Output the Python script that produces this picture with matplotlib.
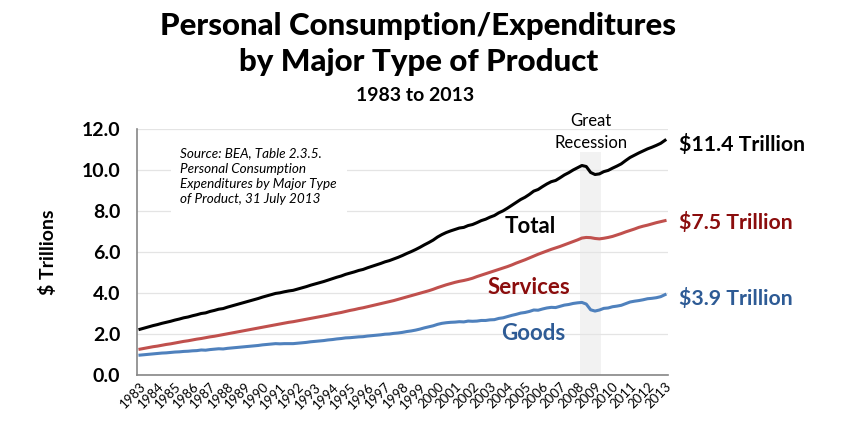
import numpy as np
import matplotlib
matplotlib.use("Agg")
import matplotlib.pyplot as plt

# quarterly values, $ trillions, 1983Q1 .. 2013Q1
years = np.arange(1983, 2013.01, 0.25)

goods = [
    0.97, 0.99, 1.01, 1.03,
    1.05, 1.07, 1.08, 1.10,
    1.12, 1.13, 1.15, 1.16,
    1.18, 1.19, 1.22, 1.21,
    1.24, 1.26, 1.28, 1.27,
    1.30, 1.32, 1.34, 1.36,
    1.38, 1.40, 1.42, 1.44,
    1.47, 1.49, 1.51, 1.53,
    1.52, 1.53, 1.53, 1.53,
    1.55, 1.57, 1.59, 1.62,
    1.64, 1.66, 1.68, 1.71,
    1.73, 1.76, 1.78, 1.81,
    1.82, 1.84, 1.86, 1.87,
    1.90, 1.92, 1.94, 1.96,
    1.99, 2.00, 2.03, 2.05,
    2.08, 2.12, 2.15, 2.19,
    2.24, 2.30, 2.35, 2.40,
    2.47, 2.52, 2.55, 2.57,
    2.58, 2.60, 2.59, 2.63,
    2.62, 2.63, 2.66, 2.66,
    2.69, 2.70, 2.76, 2.79,
    2.85, 2.91, 2.96, 3.02,
    3.05, 3.10, 3.17, 3.16,
    3.22, 3.27, 3.30, 3.29,
    3.35, 3.41, 3.44, 3.49,
    3.52, 3.54, 3.46, 3.18,
    3.12, 3.17, 3.25, 3.27,
    3.33, 3.36, 3.40, 3.48,
    3.56, 3.60, 3.63, 3.67,
    3.72, 3.74, 3.77, 3.82,
    3.92,
]

services = [
    1.26, 1.30, 1.34, 1.38,
    1.41, 1.45, 1.49, 1.52,
    1.56, 1.60, 1.64, 1.67,
    1.71, 1.75, 1.78, 1.82,
    1.86, 1.89, 1.93, 1.97,
    2.01, 2.05, 2.09, 2.13,
    2.17, 2.21, 2.25, 2.29,
    2.33, 2.37, 2.41, 2.45,
    2.49, 2.53, 2.57, 2.60,
    2.64, 2.68, 2.72, 2.76,
    2.80, 2.84, 2.88, 2.92,
    2.97, 3.01, 3.05, 3.10,
    3.15, 3.19, 3.24, 3.28,
    3.33, 3.38, 3.43, 3.48,
    3.53, 3.58, 3.63, 3.69,
    3.75, 3.81, 3.87, 3.93,
    3.99, 4.05, 4.11, 4.18,
    4.26, 4.33, 4.40, 4.46,
    4.52, 4.57, 4.61, 4.66,
    4.72, 4.80, 4.87, 4.94,
    5.01, 5.08, 5.15, 5.22,
    5.29, 5.37, 5.46, 5.54,
    5.62, 5.71, 5.80, 5.89,
    5.97, 6.05, 6.13, 6.20,
    6.27, 6.35, 6.43, 6.51,
    6.59, 6.68, 6.71, 6.70,
    6.66, 6.64, 6.67, 6.71,
    6.76, 6.83, 6.90, 6.98,
    7.05, 7.12, 7.20, 7.26,
    7.31, 7.37, 7.43, 7.48,
    7.53,
]

total = [
    2.23, 2.29, 2.35, 2.41,
    2.46, 2.52, 2.57, 2.62,
    2.68, 2.73, 2.79, 2.83,
    2.89, 2.94, 3.00, 3.03,
    3.10, 3.15, 3.21, 3.24,
    3.31, 3.37, 3.43, 3.49,
    3.55, 3.61, 3.67, 3.73,
    3.80, 3.86, 3.92, 3.98,
    4.01, 4.06, 4.10, 4.13,
    4.19, 4.25, 4.31, 4.38,
    4.44, 4.50, 4.56, 4.63,
    4.70, 4.77, 4.83, 4.91,
    4.97, 5.03, 5.10, 5.15,
    5.23, 5.30, 5.37, 5.44,
    5.52, 5.58, 5.66, 5.74,
    5.83, 5.93, 6.02, 6.12,
    6.23, 6.35, 6.46, 6.58,
    6.73, 6.85, 6.95, 7.03,
    7.10, 7.17, 7.20, 7.29,
    7.34, 7.43, 7.53, 7.60,
    7.70, 7.78, 7.91, 8.01,
    8.14, 8.28, 8.42, 8.56,
    8.67, 8.81, 8.97, 9.05,
    9.19, 9.32, 9.43, 9.49,
    9.62, 9.76, 9.87, 10.00,
    10.11, 10.22, 10.17, 9.88,
    9.78, 9.81, 9.92, 9.98,
    10.09, 10.19, 10.30, 10.46,
    10.61, 10.72, 10.83, 10.93,
    11.03, 11.11, 11.20, 11.30,
    11.45,
]

tick_years = list(range(1983, 2014))
recession = (2008.17, 2009.37)
end_labels = ["$11.4 Trillion", "$7.5 Trillion", "$3.9 Trillion"]

body = ["Lato", "DejaVu Sans"]

fig = plt.figure(figsize=(8.42, 4.33), dpi=100)
ax = fig.add_axes([137 / 842, 1 - 375 / 433, (668 - 137) / 842, (375 - 129) / 433])

ax.axvspan(*recession, ymin=0, ymax=0.905, color="#f2f2f2", lw=0, zorder=0)
ax.plot(years, total, color="black", lw=2.2, zorder=3)
ax.plot(years, services, color="#c0504d", lw=2.2, zorder=3)
ax.plot(years, goods, color="#4f81bd", lw=2.2, zorder=3)

ax.set_xlim(1982.83, 2013.17)
ax.set_ylim(0, 12)
ax.set_yticks(np.arange(0, 12.1, 2))
ax.set_yticklabels([f"{v:.1f}" for v in np.arange(0, 12.1, 2)],
                   family=body, fontweight="bold", fontsize=14)
ax.set_xticks(tick_years)
ax.set_xticklabels([str(y) for y in tick_years], rotation=45, ha="right",
                   rotation_mode="anchor", family=body, fontsize=9.5)
ax.tick_params(axis="both", length=0)
ax.tick_params(axis="y", pad=12)
ax.tick_params(axis="x", pad=4)
ax.grid(axis="y", color="#e4e4e4", lw=0.9, zorder=1)
for s in ["top", "right"]:
    ax.spines[s].set_visible(False)
for s in ["left", "bottom"]:
    ax.spines[s].set_color("#868686")
    ax.spines[s].set_linewidth(1.2)

ax.set_ylabel("$ Trillions", family=body, fontweight="bold", fontsize=14, labelpad=18)

# source note with white background
ax.text(1985.3, 11.1,
        "Source: BEA, Table 2.3.5.\nPersonal Consumption\nExpenditures by Major Type\nof Product, 31 July 2013",
        family=body, style="italic", fontsize=9.7, va="top", ha="left", linespacing=1.33,
        bbox=dict(facecolor="white", edgecolor="none", pad=7), zorder=2)

ax.text(2005.3, 7.25, "Total", family=body, fontweight="bold", fontsize=16,
        color="black", ha="center", va="center", zorder=4)
ax.text(2005.25, 4.28, "Services", family=body, fontweight="bold", fontsize=16,
        color="#8b0d0d", ha="center", va="center", zorder=4)
ax.text(2005.45, 2.0, "Goods", family=body, fontweight="bold", fontsize=16,
        color="#2e5b95", ha="center", va="center", zorder=4)
ax.text(2008.77, 11.85, "Great\nRecession", family=body, fontsize=12,
        ha="center", va="center", linespacing=1.5, clip_on=False, zorder=4)

label_colors = ["black", "#8b0d0d", "#2e5b95"]
label_shift = [-3, -1, -3]
for lab, val, c, dy in zip(end_labels, [total[-1], services[-1], goods[-1]],
                           label_colors, label_shift):
    ax.annotate(lab, xy=(1.0, val), xycoords=("axes fraction", "data"),
                xytext=(8, dy), textcoords="offset points", ha="left", va="center",
                family=body, fontweight="bold", fontsize=15.3, color=c,
                annotation_clip=False)

fig.text(0.497, 0.94, "Personal Consumption/Expenditures", family=["Lato", "DejaVu Sans"],
         fontweight=900, fontsize=22.5, ha="center", va="center")
fig.text(0.497, 0.857, "by Major Type of Product", family=["Lato", "DejaVu Sans"],
         fontweight=900, fontsize=22.5, ha="center", va="center")
fig.text(0.493, 0.78, "1983 to 2013", family=body, fontweight="bold",
         fontsize=14, ha="center", va="center")

fig.savefig("out.png", dpi=100)
